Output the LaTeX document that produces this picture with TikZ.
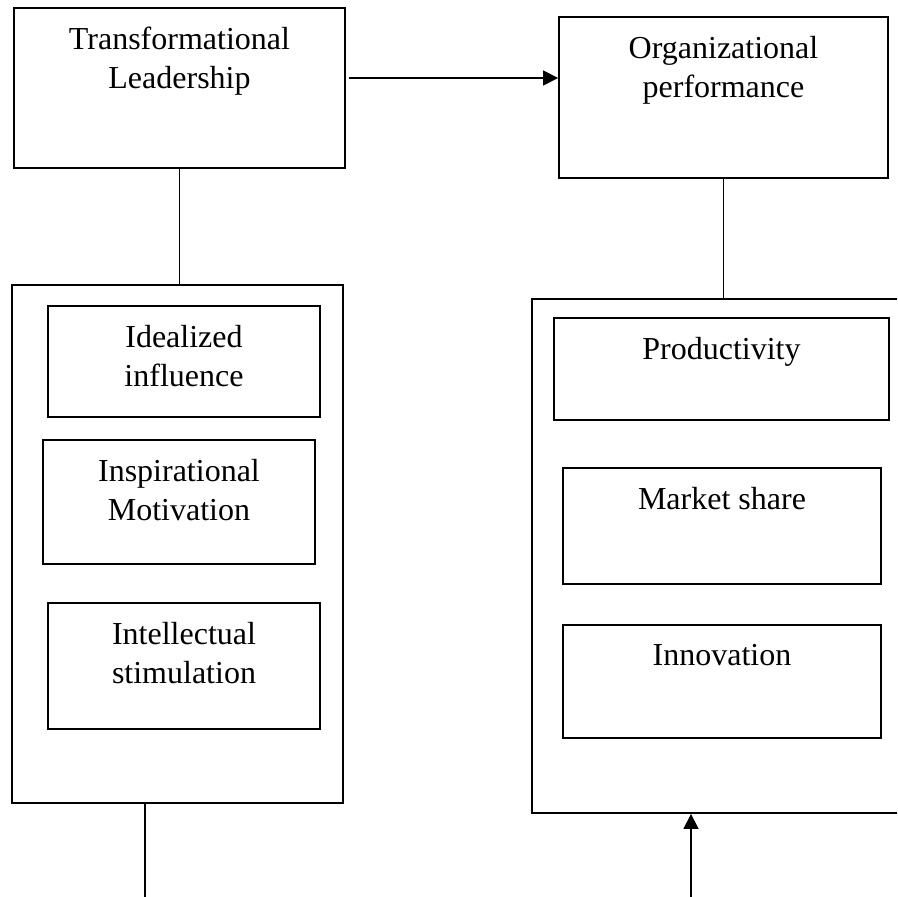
\documentclass[tikz,border=0pt]{standalone}
\usepackage{fontspec}
\setmainfont{Liberation Serif}
\usetikzlibrary{arrows.meta}

\begin{document}
\begin{tikzpicture}
  [x=1pt, y=-1pt, >={Triangle[length=15pt, width=15pt]},
   font=\fontsize{32}{38.5}\selectfont,
   box/.style={draw, line width=1.8pt, inner sep=0pt},
   title/.style={anchor=north, yshift=-20pt, align=center, inner sep=0pt},
   link/.style={line width=1.4pt}]
	\path [use as bounding box, clip] (0,0) rectangle (897,897);

	% the two constructs
	\node [name=tl, box, minimum width=331pt, minimum height=160pt, at={(179.5,88)},
		label={[title]north:Transformational\\Leadership}] {};
	\node [name=op, box, minimum width=329pt, minimum height=161pt, at={(723.5,97.5)},
		label={[title]north:Organizational\\performance}] {};

	% dimensions of leadership
	\node [name=tlgroup, box, minimum width=331pt, minimum height=518pt, at={(177.5,544)}] {};
	\node [name=ideal, box, minimum width=272pt, minimum height=111pt, at={(184,361.5)},
		label={[title]north:Idealized\\influence}] {};
	\node [name=inspire, box, minimum width=272pt, minimum height=124pt, at={(179,502)},
		label={[title]north:Inspirational\\Motivation}] {};
	\node [name=intel, box, minimum width=272pt, minimum height=126pt, at={(184,666)},
		label={[title]north:Intellectual\\stimulation}] {};

	% dimensions of performance (box runs off the right edge)
	\node [name=opgroup, box, minimum width=373pt, minimum height=514pt, at={(718.5,556)}] {};
	\node [name=prod, box, minimum width=335pt, minimum height=102pt, at={(721.5,369)},
		label={[title]north:Productivity}] {};
	\node [name=market, box, minimum width=318pt, minimum height=116pt, at={(722,526)},
		label={[title]north:Market share}] {};
	\node [name=innov, box, minimum width=318pt, minimum height=113pt, at={(722,681.5)},
		label={[title]north:Innovation}] {};

	\coordinate (tlout) at (145,897);
	\coordinate (opin) at (691,897);

	\draw [link, ->] ([xshift=3pt, yshift=10pt]tl.east) -- ([yshift=10pt]tl.east -| op.west);
	\draw [link] (tl.south) -- (tl.south |- tlgroup.north);
	\draw [link] (op.south) -- (op.south |- opgroup.north);
	\draw [link] (tlout |- tlgroup.south) -- (tlout);
	\draw [link, ->] (opin) -- (opin |- opgroup.south);
\end{tikzpicture}
\end{document}
